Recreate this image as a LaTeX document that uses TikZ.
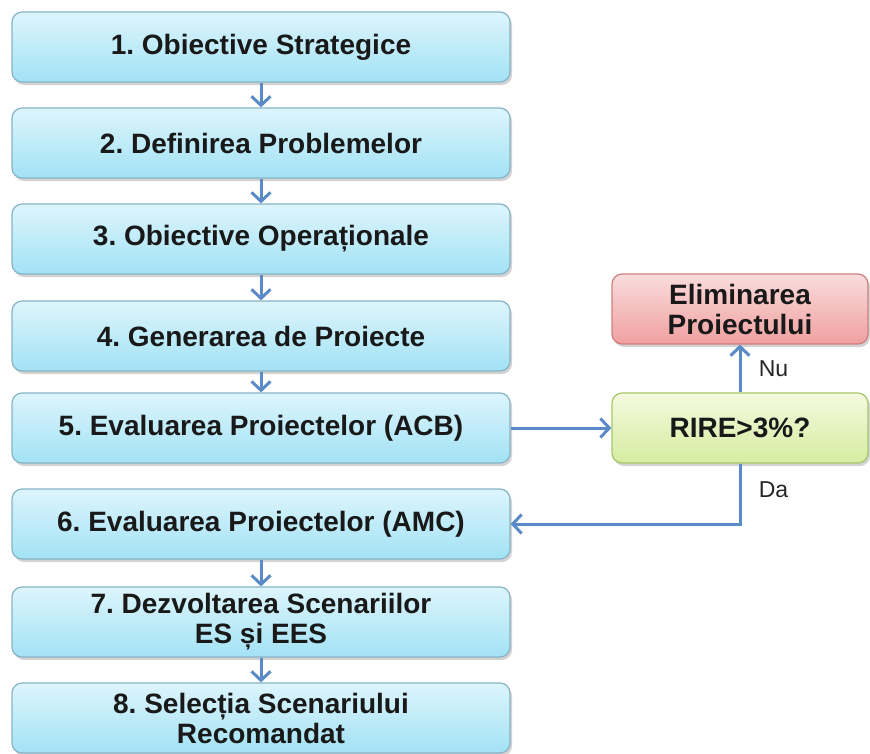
\documentclass[tikz,border=0pt]{standalone}
\usepackage{fontspec}
\setmainfont{Liberation Sans}
\usepackage{tikz}
\usetikzlibrary{arrows.meta,shadows}
\frenchspacing

\definecolor{flowblue}{HTML}{5B8BC6}
\definecolor{cyanline}{HTML}{86B3C6}
\definecolor{cyantop}{HTML}{DDF5FC}
\definecolor{cyanbot}{HTML}{A2E2F5}
\definecolor{redline}{HTML}{CF7F7F}
\definecolor{redtop}{HTML}{FADCDC}
\definecolor{redbot}{HTML}{F0A0A0}
\definecolor{greenline}{HTML}{A8C46C}
\definecolor{greentop}{HTML}{F4FADF}
\definecolor{greenbot}{HTML}{D6ECA0}

\tikzset{
  stepbox/.style={draw=cyanline, line width=1.2pt, rounded corners=10pt,
    top color=cyantop, bottom color=cyanbot, align=center,
    minimum width=498pt, minimum height=70pt, inner sep=0pt,
    font=\fontsize{28}{30}\selectfont\bfseries, text=black!90,
    drop shadow={opacity=0.35, shadow xshift=2pt, shadow yshift=-3pt}},
  sidebox/.style={stepbox, minimum width=256pt},
  flow/.style={draw=flowblue, line width=3pt,
    -{Straight Barb[length=9pt,width=19pt,line width=3pt]}},
  answer/.style={font=\fontsize{23}{25}\selectfont, text=black!85}
}

\begin{document}
\begin{tikzpicture}[x=1pt,y=-1pt]
  \useasboundingbox (0,0) rectangle (870,753);

  % left column
  \node[stepbox] (b1) at (261,47) {1. Obiective Strategice};
  \node[stepbox] (b2) at (261,143) {2. Definirea Problemelor};
  \node[stepbox] (b3) at (261,239) {3. Obiective Operaționale};
  \node[stepbox] (b4) at (261,336) {4. Generarea de Proiecte};
  \node[stepbox] (b5) at (261,428) {5. Evaluarea Proiectelor (ACB)};
  \node[stepbox] (b6) at (261,524) {6. Evaluarea Proiectelor (AMC)};
  \node[stepbox] (b7) at (261,622) {7. Dezvoltarea Scenariilor\\ES și EES};
  \node[stepbox] (b8) at (261,718) {8. Selecția Scenariului\\Recomandat};

  % decision
  \node[sidebox, draw=redline, top color=redtop, bottom color=redbot]
    (elim) at (740,309) {Eliminarea\\Proiectului};
  \node[sidebox, draw=greenline, top color=greentop, bottom color=greenbot]
    (rire) at (740,428) {RIRE>3\%?};

  \foreach \a/\b in {b1/b2,b2/b3,b3/b4,b4/b5,b6/b7,b7/b8}
    \draw[flow] (\a) -- (\b);

  \draw[flow] (b5) -- (rire);
  \draw[flow] (rire) -- node[answer, right=14pt] {Nu} (elim);
  \draw[flow] (rire.south) |- node[answer, pos=0.22, right=14pt] {Da} (b6);
\end{tikzpicture}
\end{document}
